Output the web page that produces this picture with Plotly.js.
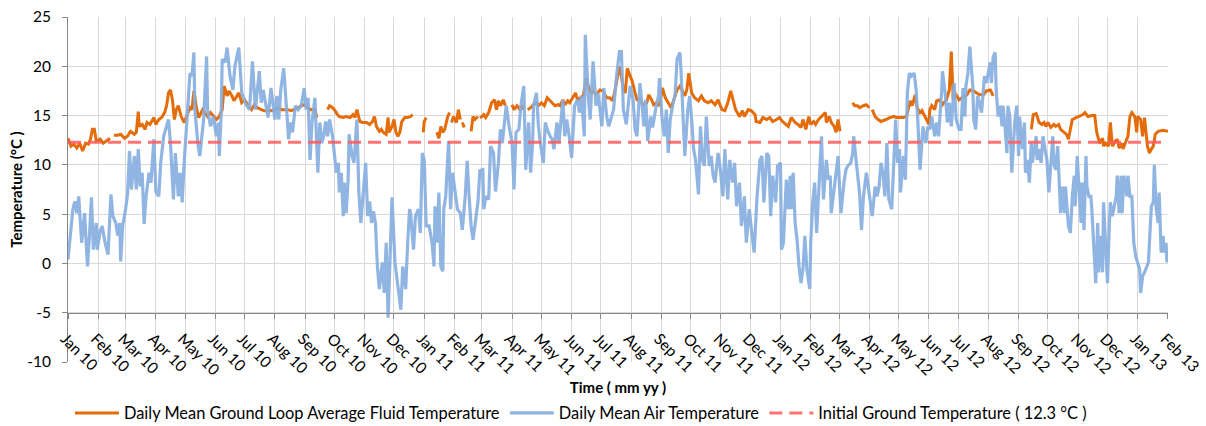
<!DOCTYPE html>
<html>
<head>
<meta charset="utf-8">
<script src="https://cdn.plot.ly/plotly-3.0.1.min.js"></script>
<style>
  html, body { margin: 0; padding: 0; background: #fff; }
  #plot { width: 1206px; height: 426px; }
</style>
</head>
<body>
<div id="plot"></div>
<script>
// Days are counted from 1 Jan 2010
var startDate = "2010-01-01";
var endDate = "2013-02-01";

// Daily Mean Air Temperature
var airDay = [0,5,7,9,11,14,17,19,20,22,24,26,29,30,33,35,38,41,44,46,49,51,53,54,56,59,61,63,65,68,70,72,74,76,78,80,83,85,88,90,93,95,98,100,103,105,108,110,113,115,117,119,123,125,127,129,130,133,135,139,142,143,146,149,152,154,155,157,158,161,163,166,169,171,175,178,
  183,186,189,192,196,198,200,203,205,208,212,214,216,218,221,224,226,228,230,233,236,239,242,244,246,248,250,253,256,258,260,262,264,266,268,271,273,275,277,278,280,282,283,285,287,288,291,293,296,298,300,302,305,307,309,311,313,315,317,319,322,324,326,328,330,332,335,338,341,343,346,348,350,351,354,356,359,361,363,365,367,
  370,373,375,376,378,380,382,384,385,387,390,392,394,397,399,402,404,407,409,411,413,415,418,420,422,425,426,428,431,433,436,438,441,443,445,447,449,452,455,457,459,462,464,467,469,472,474,476,477,480,482,484,487,489,491,494,496,498,501,503,507,509,511,514,516,519,522,524,526,529,530,533,535,538,541,543,
  547,549,552,554,557,559,562,565,567,569,572,574,576,579,581,583,586,588,590,592,594,597,599,602,605,606,609,611,613,615,617,620,622,624,627,628,630,632,635,637,639,641,643,646,648,650,652,654,657,659,661,663,666,668,671,673,676,678,681,683,685,688,690,693,695,698,701,703,706,709,711,713,716,718,720,722,725,727,
  730,731,733,735,736,738,740,741,743,745,747,749,751,753,755,757,760,761,763,765,767,770,772,774,777,779,781,782,785,787,789,791,792,795,797,799,802,804,805,807,810,811,813,815,818,820,822,824,827,829,831,833,835,837,839,841,844,846,848,850,852,853,856,858,860,862,864,867,869,871,873,876,879,881,883,885,888,890,892,895,896,899,901,903,905,908,910,913,
  915,917,919,920,922,924,927,928,930,932,934,936,939,941,943,945,946,948,950,951,953,955,957,958,960,962,963,965,967,969,970,972,974,975,978,980,981,983,985,987,988,990,992,993,995,997,999,1001,1003,1005,1007,1009,1010,1012,1014,1015,1017,1019,1021,1022,1024,1025,1027,1029,1031,1032,1034,1036,1038,1039,1041,1043,1044,1046,1048,1049,1051,1053,1055,1056,1058,1060,1061,1063,1065,1067,1068,1070,1072,1074,1075,1077,1079,1080,1082,1085,1086,1088,1090,1092,1094,1096,1098,1099,1101,1103,1105,1107,1108,1110,1112,1113,1115,1117,1118,1120,1122,1123,1125,1126];
var airTemp = [0.4,5.5,6.3,5.1,6.8,2.1,5.1,1.6,-0.3,2.8,6.7,1.4,4.1,1.4,3.3,3.8,2.1,0.9,7.0,4.8,4.1,2.8,4.1,0.2,3.8,5.5,7.0,11.4,7.5,10.9,7.5,11.6,7.8,9.2,4.0,6.8,9.2,8.2,12.6,7.3,6.8,10.2,12.9,13.6,14.6,12.2,6.5,11.2,6.8,9.2,6.2,10.2,16.0,19.3,19.0,21.4,15.6,12.2,10.9,14.6,21.0,15.6,13.9,14.9,12.9,14.3,10.9,15.3,20.7,20.4,21.9,19.0,17.6,20.0,21.9,17.3,
  16.0,15.6,20.5,15.6,19.5,16.3,17.6,16.0,14.8,17.8,14.6,17.0,14.6,17.6,19.8,15.6,12.6,14.3,13.3,16.0,15.6,16.0,17.8,15.6,16.8,10.5,14.3,16.8,9.2,14.3,12.2,12.9,14.4,12.9,14.6,12.9,10.9,9.2,10.2,7.2,9.2,4.8,8.2,5.1,8.5,13.1,10.9,10.2,14.6,7.2,4.1,6.8,10.2,4.8,6.3,4.1,5.3,4.1,-0.3,-2.6,0.1,-3.0,2.1,-5.5,1.4,6.7,0.1,-2.3,-4.7,-0.3,-2.6,2.1,5.5,5.1,1.4,4.8,5.5,3.1,11.2,10.5,3.8,
  3.8,2.1,-0.3,5.8,2.1,7.2,-0.3,-0.8,5.5,6.8,12.4,5.5,9.2,7.2,5.5,5.1,3.4,6.8,10.4,6.8,3.8,2.4,4.8,6.2,9.4,9.5,5.5,6.8,6.5,11.9,11.2,7.3,10.2,13.6,12.2,14.3,16.0,13.9,12.2,7.5,13.3,13.6,16.0,18.0,9.5,14.3,9.2,12.2,16.0,17.3,13.9,12.2,10.2,14.3,13.6,12.9,12.6,11.6,14.3,12.2,16.6,12.9,14.6,12.6,10.7,16.0,16.6,15.3,17.0,12.9,23.2,17.0,14.6,20.5,16.0,17.3,
  13.9,17.8,14.9,13.9,14.9,15.6,19.0,21.5,21.5,15.6,14.1,16.0,18.0,16.6,13.6,12.9,18.3,16.3,13.9,16.6,12.4,14.9,13.8,15.6,17.0,18.8,14.3,12.9,15.6,11.2,14.6,16.3,17.0,20.7,21.4,19.7,15.6,10.9,15.6,17.0,14.6,11.6,10.5,7.0,13.9,10.5,9.9,14.9,9.9,10.9,8.9,8.2,11.2,9.9,6.8,11.6,6.5,10.5,8.2,10.2,5.8,8.2,3.8,6.8,2.1,5.5,2.8,1.1,6.8,10.5,10.9,6.2,11.2,10.9,4.8,8.9,6.2,9.9,
  10.2,1.4,2.1,6.8,8.5,5.5,8.9,5.5,9.2,4.1,2.4,-0.3,-2.0,-0.6,2.8,-0.6,-2.6,2.1,6.2,8.2,3.1,8.9,12.9,6.5,10.5,8.5,8.9,5.1,7.5,9.5,10.9,6.8,5.1,8.2,9.5,9.9,10.2,11.2,12.9,10.9,7.8,7.2,3.4,6.8,9.2,7.5,5.8,4.8,7.8,6.8,7.8,10.2,9.2,6.8,12.2,6.5,5.5,10.5,14.6,10.2,11.6,7.2,10.9,8.5,17.3,19.3,19.0,19.3,17.6,13.9,9.5,13.9,12.2,13.9,13.6,14.9,12.9,14.3,12.9,17.3,19.5,17.0,14.3,16.3,13.9,18.3,14.6,13.6,
  13.6,17.8,14.9,18.0,19.3,22.0,18.0,14.6,13.6,17.0,16.3,15.3,19.0,18.3,19.3,20.4,18.3,21.0,21.4,17.6,14.9,16.0,13.9,16.0,13.9,11.2,16.0,14.9,9.2,12.9,14.3,16.0,10.9,14.9,11.6,14.3,9.2,10.5,8.2,12.2,10.2,11.6,12.9,10.5,11.6,10.2,12.9,11.6,10.5,7.2,10.2,12.9,10.2,9.5,11.9,9.2,5.1,7.8,5.1,7.8,5.5,3.8,3.1,6.8,8.9,5.8,10.9,6.8,4.1,8.2,3.4,10.9,7.8,6.8,6.8,5.5,2.1,-2.0,4.1,-0.9,2.8,-0.9,6.2,2.1,-2.0,4.1,6.2,4.8,5.8,6.8,8.9,5.1,8.9,5.1,8.9,6.8,8.9,6.8,6.8,2.1,0.7,0.1,-0.6,-3.0,-1.3,-0.9,-0.3,0.1,2.1,5.8,6.2,10.0,5.5,4.1,7.2,1.1,2.8,1.1,2.1,0.1];

// Daily Mean Ground Loop Average Fluid Temperature (null = no data)
var fluidDay = [0,3,6,9,12,15,18,21,23,25,27,29,33,36,39,43,45,47,51,54,58,61,64,68,70,72,73,76,79,81,84,88,90,93,96,99,101,103,105,107,109,111,113,116,119,123,125,127,129,132,134,138,140,143,146,149,152,155,158,160,163,165,168,170,173,175,178,
  181,185,188,191,194,198,201,205,208,212,215,219,222,225,229,232,236,239,242,246,249,253,255,260,266,268,271,273,276,278,282,285,289,292,294,296,299,302,306,309,312,314,316,319,321,323,326,328,329,332,334,336,338,340,342,345,348,351,353,358,364,365,367,372,
  378,380,382,384,386,389,391,392,393,395,398,400,402,403,404,406,410,413,415,417,420,421,422,424,426,428,431,433,434,437,439,441,443,446,448,452,455,457,460,463,465,467,469,471,474,477,480,482,485,488,491,493,496,499,502,504,507,509,512,514,517,520,522,525,528,531,533,536,538,541,
  545,548,552,555,558,560,562,565,567,569,571,573,576,578,581,583,586,589,593,595,598,600,603,606,609,612,615,618,622,624,627,629,632,634,636,639,642,646,649,652,656,659,663,666,670,673,676,679,681,684,688,691,693,697,700,704,705,709,712,716,719,722,726,729,
  732,735,738,741,745,748,751,753,756,759,761,764,766,769,772,776,777,780,782,785,787,789,791,797,804,806,809,811,815,818,821,822,824,827,830,833,838,842,846,849,852,856,859,863,865,868,870,873,875,878,880,882,883,885,888,890,893,896,900,903,905,906,907,910,913,
  916,921,924,928,931,934,938,941,945,948,960,987,989,992,995,998,1000,1002,1004,1007,1010,1012,1015,1017,1020,1023,1025,1027,1029,1033,1036,1040,1042,1045,1049,1052,1054,1056,1057,1060,1061,1063,1066,1068,1070,1073,1075,1077,1080,1081,1084,1086,1088,1090,1093,1095,1096,1099,1101,1103,1106,1108,1110,1112,1114,1117,1122,1127];
var fluidTemp = [12.7,11.9,12.1,11.7,12.2,11.4,12.2,12.1,12.6,13.6,13.6,12.4,12.6,12.2,12.4,12.7,null,13.0,13.0,13.1,12.7,12.9,13.4,13.1,13.3,15.4,13.9,14.1,13.6,14.3,14.1,14.8,14.1,14.6,14.8,15.3,16.0,17.3,17.6,16.6,14.6,15.6,16.0,14.9,14.3,15.3,15.8,15.6,17.5,15.6,14.8,15.6,15.3,14.9,15.3,14.9,14.6,14.9,15.6,18.0,17.0,17.5,17.0,16.5,17.0,17.3,16.3,
  16.6,16.0,15.6,16.1,15.8,15.6,15.5,15.5,15.5,15.6,15.8,15.6,15.6,15.6,15.5,15.6,15.8,16.0,16.1,15.8,15.6,15.6,14.8,null,15.6,16.0,15.8,15.6,15.1,14.9,14.8,14.9,14.8,15.1,14.8,15.6,14.4,14.3,14.3,14.1,14.4,14.9,13.9,13.4,13.6,13.3,13.1,14.8,13.3,13.9,14.6,13.3,12.9,13.3,14.4,14.8,14.8,14.9,15.1,null,13.3,14.4,14.8,null,
  13.3,12.7,13.9,13.3,13.6,14.9,15.3,null,14.3,14.9,14.3,15.6,14.6,null,14.3,13.8,null,13.4,14.9,14.6,14.9,null,14.8,14.9,15.1,14.8,15.3,16.0,16.3,16.6,15.6,16.5,16.0,16.6,16.0,null,16.1,15.6,16.0,15.6,16.0,15.6,null,15.6,15.8,16.1,16.3,16.0,16.3,16.0,16.8,16.6,16.3,16.0,16.1,16.0,16.6,16.1,16.5,16.3,16.8,17.3,16.6,16.8,17.0,18.8,18.0,17.3,17.5,17.1,
  17.6,17.5,16.8,16.8,16.5,17.3,18.5,20.0,19.0,17.6,17.3,19.8,19.0,18.5,17.3,16.6,16.6,16.1,16.3,17.1,16.6,16.1,16.3,16.0,17.8,16.8,16.3,15.8,17.0,17.6,18.0,17.6,17.0,17.6,19.3,17.3,16.8,16.5,17.0,16.5,16.3,16.5,16.1,16.6,15.6,15.5,16.3,17.5,16.6,15.6,14.9,15.5,14.9,15.6,15.5,15.1,14.4,14.3,14.8,14.6,14.8,14.4,14.6,14.8,
  14.4,14.1,13.9,14.8,14.3,14.1,13.8,14.6,13.6,14.9,14.1,14.4,14.1,14.6,14.9,15.3,14.3,14.9,14.3,13.9,13.3,14.6,13.4,null,16.3,16.0,16.0,15.8,16.0,16.1,15.8,null,15.6,14.9,14.6,14.4,14.6,14.8,14.9,14.8,14.8,14.8,14.9,16.5,16.0,17.1,15.8,15.3,15.5,14.9,14.6,14.1,15.6,16.0,15.6,16.5,16.6,16.1,16.6,17.6,21.5,19.0,16.6,17.1,16.6,
  16.8,17.1,17.6,17.5,17.3,17.1,17.1,17.5,17.6,17.0,null,13.6,15.1,15.2,14.3,14.1,14.3,13.9,14.3,13.8,14.1,13.9,14.1,13.6,13.3,13.1,12.6,13.6,14.6,14.8,14.9,15.1,15.3,14.9,15.0,15.0,13.3,12.4,12.2,12.7,11.9,12.2,11.9,14.3,11.9,12.4,12.6,11.7,12.2,11.6,12.4,12.9,14.9,15.3,14.9,13.3,14.9,14.6,12.9,14.8,11.9,11.2,11.6,11.9,13.1,13.4,13.5,13.4];

// Initial Ground Temperature
var initialGround = 12.3;

var yTickVals = [-10, -5, 0, 5, 10, 15, 20, 25];
var yTickText = ["-10", "-5", "0", "5", "10", "15", "20", "25"];

function dayToDate(d) {
  var t = Date.UTC(2010, 0, 1) + d * 86400000;
  return new Date(t).toISOString().slice(0, 10);
}

var fluidTrace = {
  x: fluidDay.map(dayToDate),
  y: fluidTemp,
  mode: "lines",
  type: "scatter",
  name: "Daily Mean Ground Loop Average Fluid Temperature",
  connectgaps: false,
  line: { color: "#e46c0a", width: 3 }
};

var airTrace = {
  x: airDay.map(dayToDate),
  y: airTemp,
  mode: "lines",
  type: "scatter",
  name: "Daily Mean Air Temperature",
  line: { color: "rgba(135, 175, 224, 0.92)", width: 3.2 }
};

var groundTrace = {
  x: [startDate, endDate],
  y: [initialGround, initialGround],
  mode: "lines",
  type: "scatter",
  name: "Initial Ground Temperature ( 12.3 °C )",
  line: { color: "rgba(255, 90, 90, 0.85)", width: 3, dash: "13px,7px" }
};

var data = [fluidTrace, airTrace, groundTrace];

var layout = {
  width: 1206,
  height: 426,
  margin: { l: 68, r: 38, t: 17, b: 64 },
  paper_bgcolor: "#ffffff",
  plot_bgcolor: "#ffffff",
  font: { family: "Lato, 'Liberation Sans', sans-serif", size: 16, color: "#000000" },
  showlegend: true,
  legend: {
    orientation: "h",
    xref: "container",
    yref: "container",
    x: 0.058,
    xanchor: "left",
    y: 0.03,
    yanchor: "middle",
    font: { size: 16.4 },
    itemwidth: 44
  },
  xaxis: {
    type: "date",
    range: [startDate, endDate + " 01:00"],
    anchor: "free",
    position: 5 / 35,
    automargin: false,
    tick0: startDate,
    dtick: "M1",
    tickformat: "%b %y",
    tickangle: 45,
    tickfont: { size: 15.5 },
    ticklabelstandoff: 5,
    ticklabelshift: -3,
    ticklabeloverflow: "allow",
    showgrid: true,
    gridcolor: "#d9d9d9",
    showline: true,
    linecolor: "#868686",
    ticks: "outside",
    ticklen: 5,
    tickcolor: "#868686",
    zeroline: false,
    title: { text: "Time ( mm yy )", font: { size: 15, weight: "bold" }, standoff: 0 }
  },
  yaxis: {
    range: [-10, 25],
    automargin: false,
    tickmode: "array",
    tickvals: yTickVals,
    ticktext: yTickText,
    tickfont: { size: 15.5 },
    ticklabelstandoff: 8,
    showgrid: true,
    gridcolor: "#d9d9d9",
    showline: true,
    linecolor: "#868686",
    ticks: "outside",
    ticklen: 5,
    tickcolor: "#868686",
    zeroline: false,
    title: { text: "Temperature (°C )", font: { size: 15, weight: "bold" }, standoff: 0 }
  }
};

Plotly.newPlot("plot", data, layout, { displayModeBar: false });
</script>
</body>
</html>
